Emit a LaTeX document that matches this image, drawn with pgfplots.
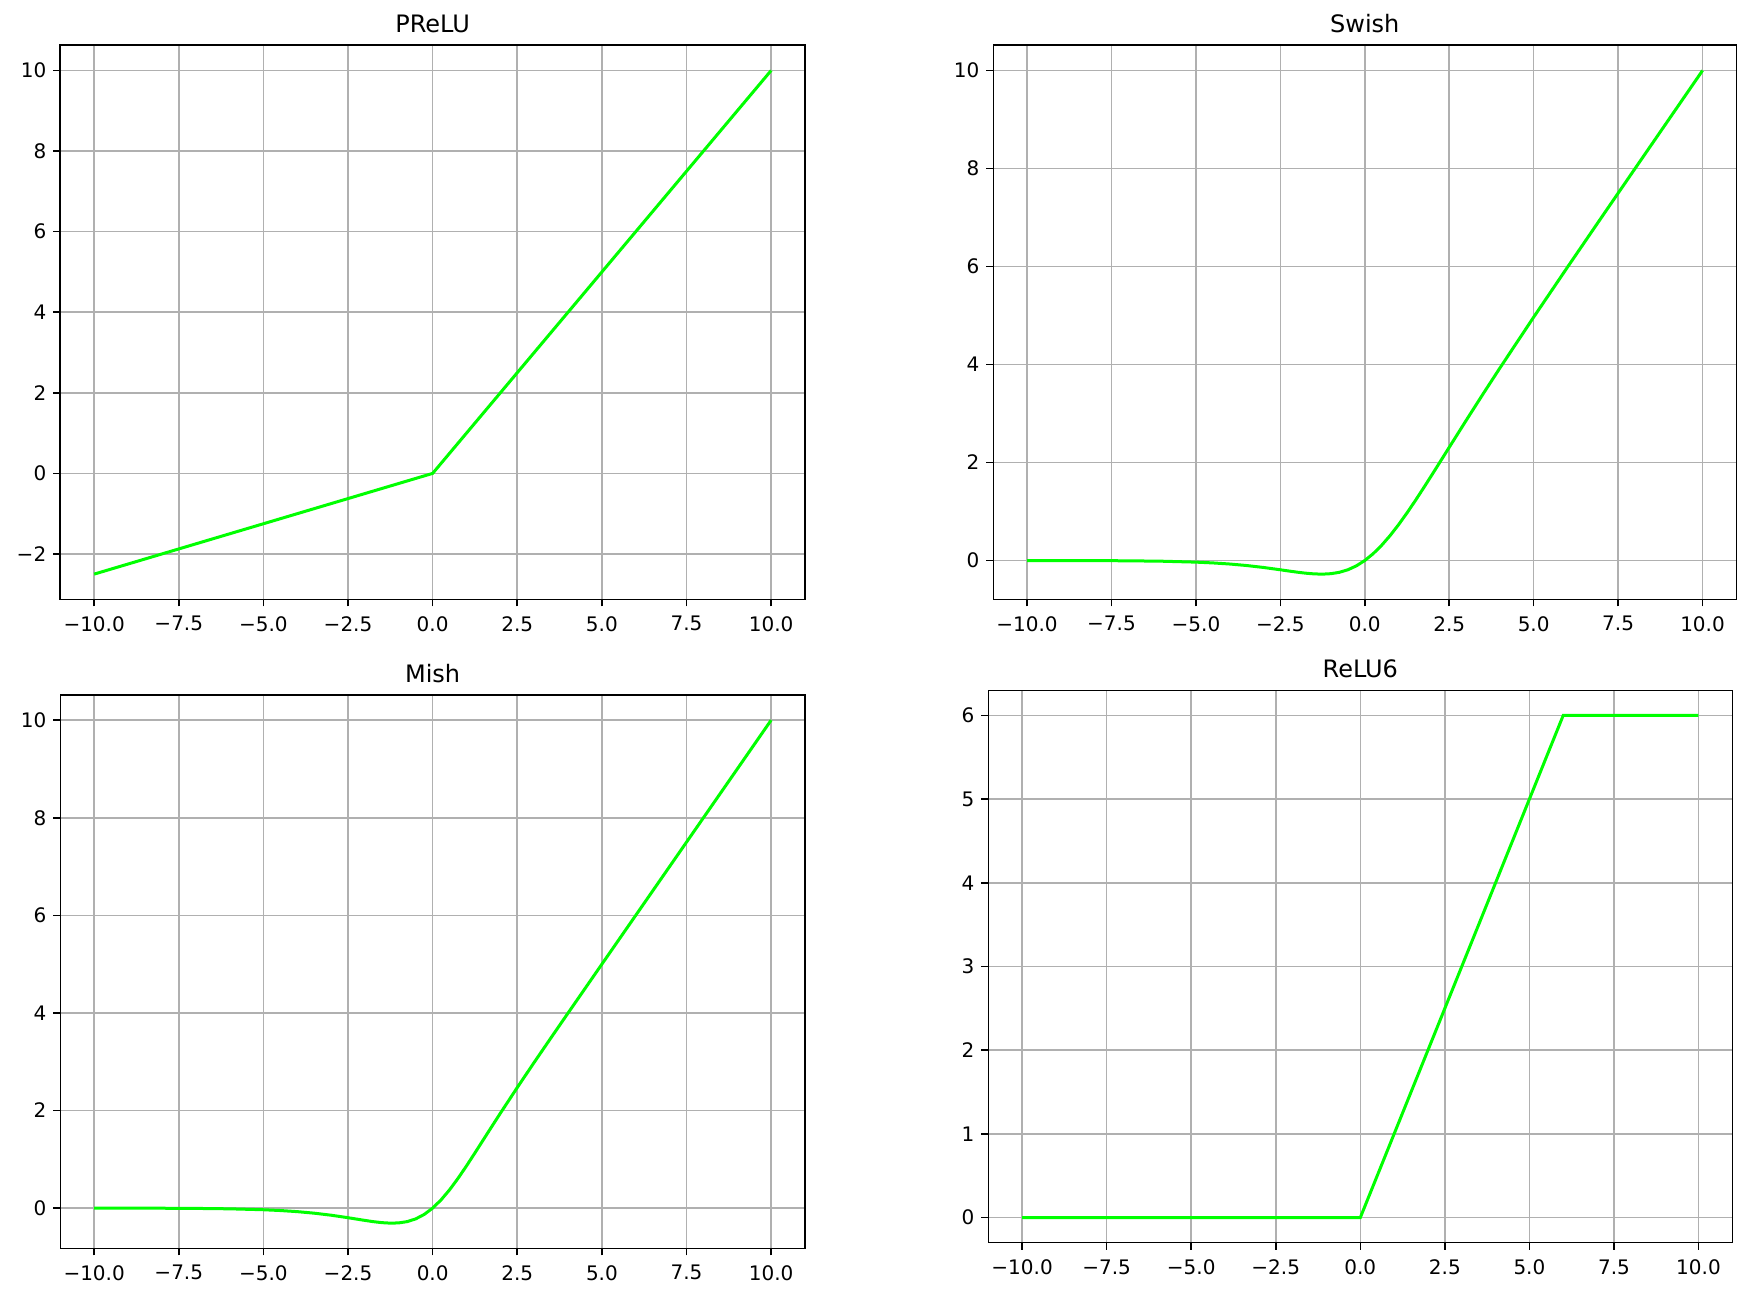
\documentclass[border=0pt]{standalone}
\usepackage{fontspec}
\setmainfont{DejaVu Sans}
\usepackage{pgfplots}
\pgfplotsset{compat=1.18}
\definecolor{gridgray}{HTML}{B0B0B0}
\definecolor{lime}{HTML}{00FF00}

\pgfplotsset{
  act/.style={
    scale only axis,
    anchor=north west,
    xmin=-11, xmax=11,
    xtick={-10,-7.5,-5,-2.5,0,2.5,5,7.5,10},
    xticklabels={−10.0,−7.5,−5.0,−2.5,0.0,2.5,5.0,7.5,10.0},
    /pgf/number format/assume math mode=true,
    grid=major,
    major grid style={color=gridgray, line width=0.8pt},
    axis line style={line width=0.8pt},
    tick style={line width=0.8pt, black},
    major tick length=3.5pt,
    tick align=outside,
    tick pos=left,
    ticklabel style={font=\fontsize{10}{12}\selectfont},
    xticklabel style={yshift=-1.5pt},
    title style={font=\fontsize{12}{14}\selectfont, at={(0.5,1)}, anchor=south, yshift=-3.5pt},
  },
  curve/.style={color=lime, line width=1.5pt},
}

\begin{document}
\begin{tikzpicture}
\useasboundingbox (0,0) rectangle (875.5pt,-649.5pt);

% PReLU
\begin{axis}[act, at={(30.15pt,-22.65pt)}, width=372.35pt, height=277pt,
  ymin=-3.125, ymax=10.625,
  ytick={-2,0,2,4,6,8,10}, yticklabels={−2,0,2,4,6,8,10},
  title={PReLU}]
\addplot[curve] coordinates {(-10,-2.5) (0,0) (10,10)};
\end{axis}

% Swish
\begin{axis}[act, at={(496.65pt,-22.65pt)}, width=371.5pt, height=277pt,
  ymin=-0.792, ymax=10.514,
  ytick={0,2,4,6,8,10},
  title={Swish}]
\addplot[curve] coordinates {
(-10,-0.000454) (-8,-0.00268) (-7,-0.00638) (-6,-0.01484) (-5,-0.03346)
(-4.5,-0.04944) (-4,-0.07194) (-3.5,-0.10259) (-3,-0.14228) (-2.5,-0.18965)
(-2.25,-0.21454) (-2,-0.23841) (-1.75,-0.25908) (-1.5,-0.27364) (-1.25,-0.27838)
(-1,-0.26894) (-0.75,-0.24062) (-0.5,-0.18877) (-0.25,-0.10946) (0,0)
(0.25,0.14054) (0.5,0.31123) (0.75,0.50938) (1,0.73106) (1.25,0.97162)
(1.5,1.22636) (1.75,1.49092) (2,1.76159) (2.5,2.31035) (3,2.85772)
(3.5,3.39741) (4,3.92806) (5,4.96654) (6,5.98516) (7,6.99362)
(8,7.99732) (10,9.99955)};
\end{axis}

% Mish
\begin{axis}[act, at={(30.15pt,-347.5pt)}, width=372.35pt, height=276.65pt,
  ymin=-0.824, ymax=10.515,
  ytick={0,2,4,6,8,10},
  title={Mish}]
\addplot[curve] coordinates {
(-10,-0.000454) (-8,-0.00268) (-7,-0.00638) (-6,-0.014854) (-5,-0.033576)
(-4.5,-0.04971) (-4,-0.072591) (-3.5,-0.10409) (-3,-0.14565) (-2.5,-0.19682)
(-2.25,-0.22471) (-2,-0.25250) (-1.75,-0.27802) (-1.5,-0.29810) (-1.25,-0.30841)
(-1,-0.30340) (-0.75,-0.27649) (-0.5,-0.22075) (-0.25,-0.12993) (0,0)
(0.25,0.16957) (0.5,0.37524) (0.75,0.61002) (1,0.86510) (1.25,1.13187)
(1.5,1.40338) (1.75,1.67493) (2,1.94396) (2.5,2.47139) (3,2.98654)
(3.5,3.49399) (4,3.99741) (5,4.99955) (6,5.99993) (7,7) (8,8) (10,10)};
\end{axis}

% ReLU6
\begin{axis}[act, at={(494.15pt,-345.15pt)}, width=372pt, height=276.2pt,
  ymin=-0.3, ymax=6.3,
  ytick={0,1,2,3,4,5,6},
  title={ReLU6}]
\addplot[curve] coordinates {(-10,0) (0,0) (6,6) (10,6)};
\end{axis}
\end{tikzpicture}
\end{document}
